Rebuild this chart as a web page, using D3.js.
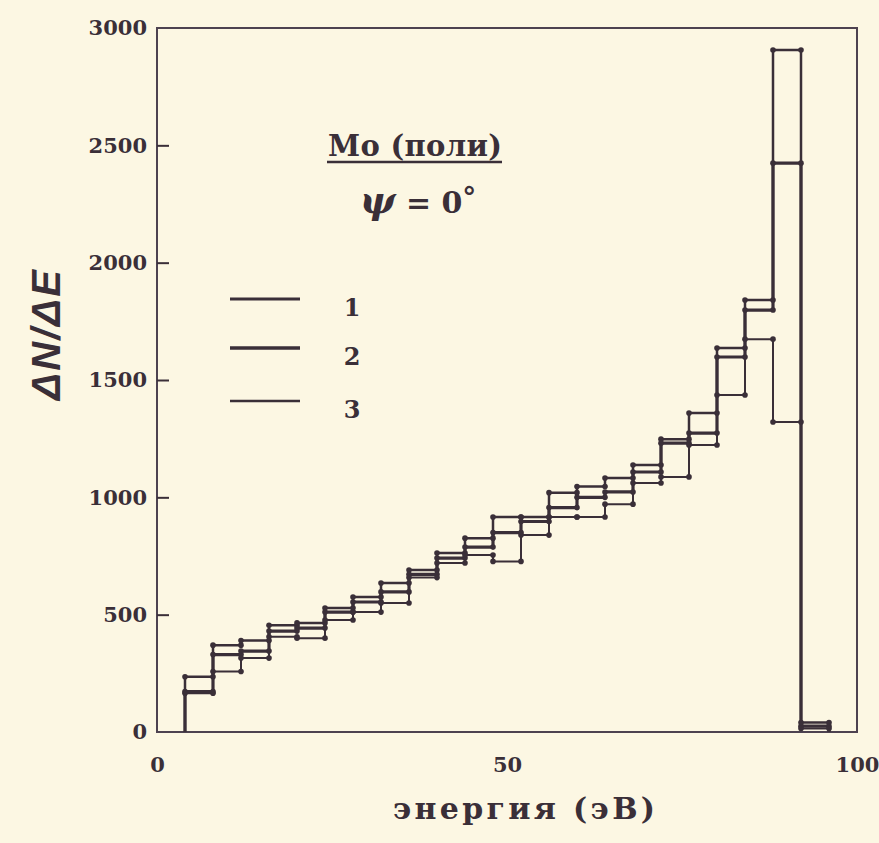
<!DOCTYPE html>
<html lang="ru">
<head>
    <meta charset="utf-8">
    <title>Mo (поли) - energy spectrum</title>
    <script src="https://d3js.org/d3.v7.min.js"></script>
    <style>
        html, body { margin: 0; padding: 0; background: #fcf7e3; }
        svg { display: block; }
        .tick text { font-family: 'DejaVu Serif', serif; font-weight: bold; font-size: 21px; fill: #3a2f38; }
        .label { font-family: 'DejaVu Serif', serif; font-weight: bold; fill: #3a2f38; }
    </style>
</head>
<body>
<svg id="chart"></svg>
<script>
    // bin edges of the energy histogram (eV)
    const binEdges = [4, 8, 12, 16, 20, 24, 28, 32, 36, 40, 44, 48, 52, 56, 60, 64, 68, 72, 76, 80, 84, 88, 92, 96];

    // dN/dE per bin
    const series1 = [235, 370, 390, 455, 465, 528, 575, 635, 690, 763, 826, 916, 916, 1020, 1046, 1082, 1138, 1248, 1359, 1636, 1841, 2906, 40];
    const series2 = [172, 330, 345, 430, 443, 511, 554, 597, 672, 741, 788, 850, 897, 956, 1000, 1023, 1108, 1231, 1274, 1598, 1798, 2424, 25];
    const series3 = [165, 258, 315, 406, 400, 477, 511, 550, 658, 720, 754, 727, 839, 916, 916, 971, 1061, 1087, 1223, 1436, 1674, 1321, 15];

    const seriesNames = ['1', '2', '3'];
    const yTicks = [0, 500, 1000, 1500, 2000, 2500, 3000];
    const xTicks = [0, 50, 100];

    const WIDTH = 879, HEIGHT = 843;
    const INK = '#3a2f38';
    const widths = [2.5, 3.2, 2];

    const svg = d3.select('#chart')
        .attr('width', WIDTH)
        .attr('height', HEIGHT);

    const x = d3.scaleLinear().domain([0, 100]).range([157, 857]);
    const y = d3.scaleLinear().domain([0, 3000]).range([732, 28]);

    // frame
    svg.append('rect')
        .attr('x', x(0)).attr('y', y(3000))
        .attr('width', x(100) - x(0)).attr('height', y(0) - y(3000))
        .attr('fill', 'none').attr('stroke', '#4d4250').attr('stroke-width', 2);

    // left axis with inward ticks
    const yAxis = svg.append('g')
        .attr('transform', `translate(${x(0)},0)`)
        .call(d3.axisLeft(y).tickValues(yTicks).tickFormat(d3.format('d'))
            .tickSizeInner(-12).tickSizeOuter(0).tickPadding(10));
    yAxis.select('.domain').remove();
    yAxis.selectAll('.tick line').attr('stroke', INK).attr('stroke-width', 2);
    yAxis.selectAll('.tick line').filter(d => d === 0 || d === 3000).remove();

    const xAxis = svg.append('g')
        .attr('transform', `translate(0,${y(0)})`)
        .call(d3.axisBottom(x).tickValues(xTicks).tickFormat(d3.format('d')).tickSize(0).tickPadding(25));
    xAxis.select('.domain').remove();

    // axis titles
    svg.append('text')
        .attr('class', 'label')
        .attr('x', 524).attr('y', 819)
        .attr('text-anchor', 'middle')
        .attr('font-size', 30)
        .attr('textLength', 262)
        .text('энергия (эВ)');

    svg.append('text')
        .attr('transform', 'translate(60,335) rotate(-90)')
        .attr('text-anchor', 'middle')
        .style('font-family', "'Liberation Sans', sans-serif")
        .style('font-weight', 'bold')
        .style('font-style', 'italic')
        .style('font-size', '40px')
        .attr('textLength', 130)
        .attr('fill', INK)
        .text('ΔN/ΔE');

    // title block
    svg.append('text')
        .attr('class', 'label')
        .attr('x', 415).attr('y', 156)
        .attr('text-anchor', 'middle')
        .attr('font-size', 29)
        .attr('textLength', 174)
        .text('Mo (поли)');
    svg.append('line')
        .attr('x1', 327).attr('x2', 502)
        .attr('y1', 162).attr('y2', 162)
        .attr('stroke', INK).attr('stroke-width', 2.5);

    const psi = svg.append('text')
        .attr('class', 'label')
        .attr('x', 418).attr('y', 213)
        .attr('text-anchor', 'middle')
        .attr('font-size', 30);
    psi.append('tspan').style('font-style', 'italic').attr('font-size', 38).text('ψ');
    psi.append('tspan').text(' = 0');
    psi.append('tspan').attr('dy', -6).attr('font-size', 28).text('°');

    // histogram steps
    const allSeries = [series1, series2, series3];

    const line = d3.line()
        .x(d => x(d[0]))
        .y(d => y(d[1]))
        .curve(d3.curveStepAfter);

    allSeries.forEach((vals, s) => {
        const pts = [[binEdges[0], 0]];
        vals.forEach((v, i) => pts.push([binEdges[i], v]));
        pts.push([binEdges[binEdges.length - 1], 0]);

        svg.append('path')
            .datum(pts)
            .attr('d', line)
            .attr('fill', 'none')
            .attr('stroke', INK)
            .attr('stroke-width', widths[s]);

        // dots at both ends of every bin top
        const dots = [];
        vals.forEach((v, i) => {
            dots.push([binEdges[i], v]);
            dots.push([binEdges[i + 1], v]);
        });
        svg.append('g')
            .selectAll('circle')
            .data(dots)
            .join('circle')
            .attr('cx', d => x(d[0]))
            .attr('cy', d => y(d[1]))
            .attr('r', 2.8)
            .attr('fill', INK);
    });

    // legend
    const legend = svg.append('g');
    const legendY = [299, 348, 401];
    seriesNames.forEach((name, i) => {
        legend.append('line')
            .attr('x1', 230).attr('x2', 300)
            .attr('y1', legendY[i]).attr('y2', legendY[i])
            .attr('stroke', INK)
            .attr('stroke-width', widths[i] + 0.4);
        legend.append('text')
            .attr('class', 'label')
            .attr('x', 352).attr('y', legendY[i] + 17)
            .attr('text-anchor', 'middle')
            .attr('font-size', 24)
            .text(name);
    });
</script>
</body>
</html>
